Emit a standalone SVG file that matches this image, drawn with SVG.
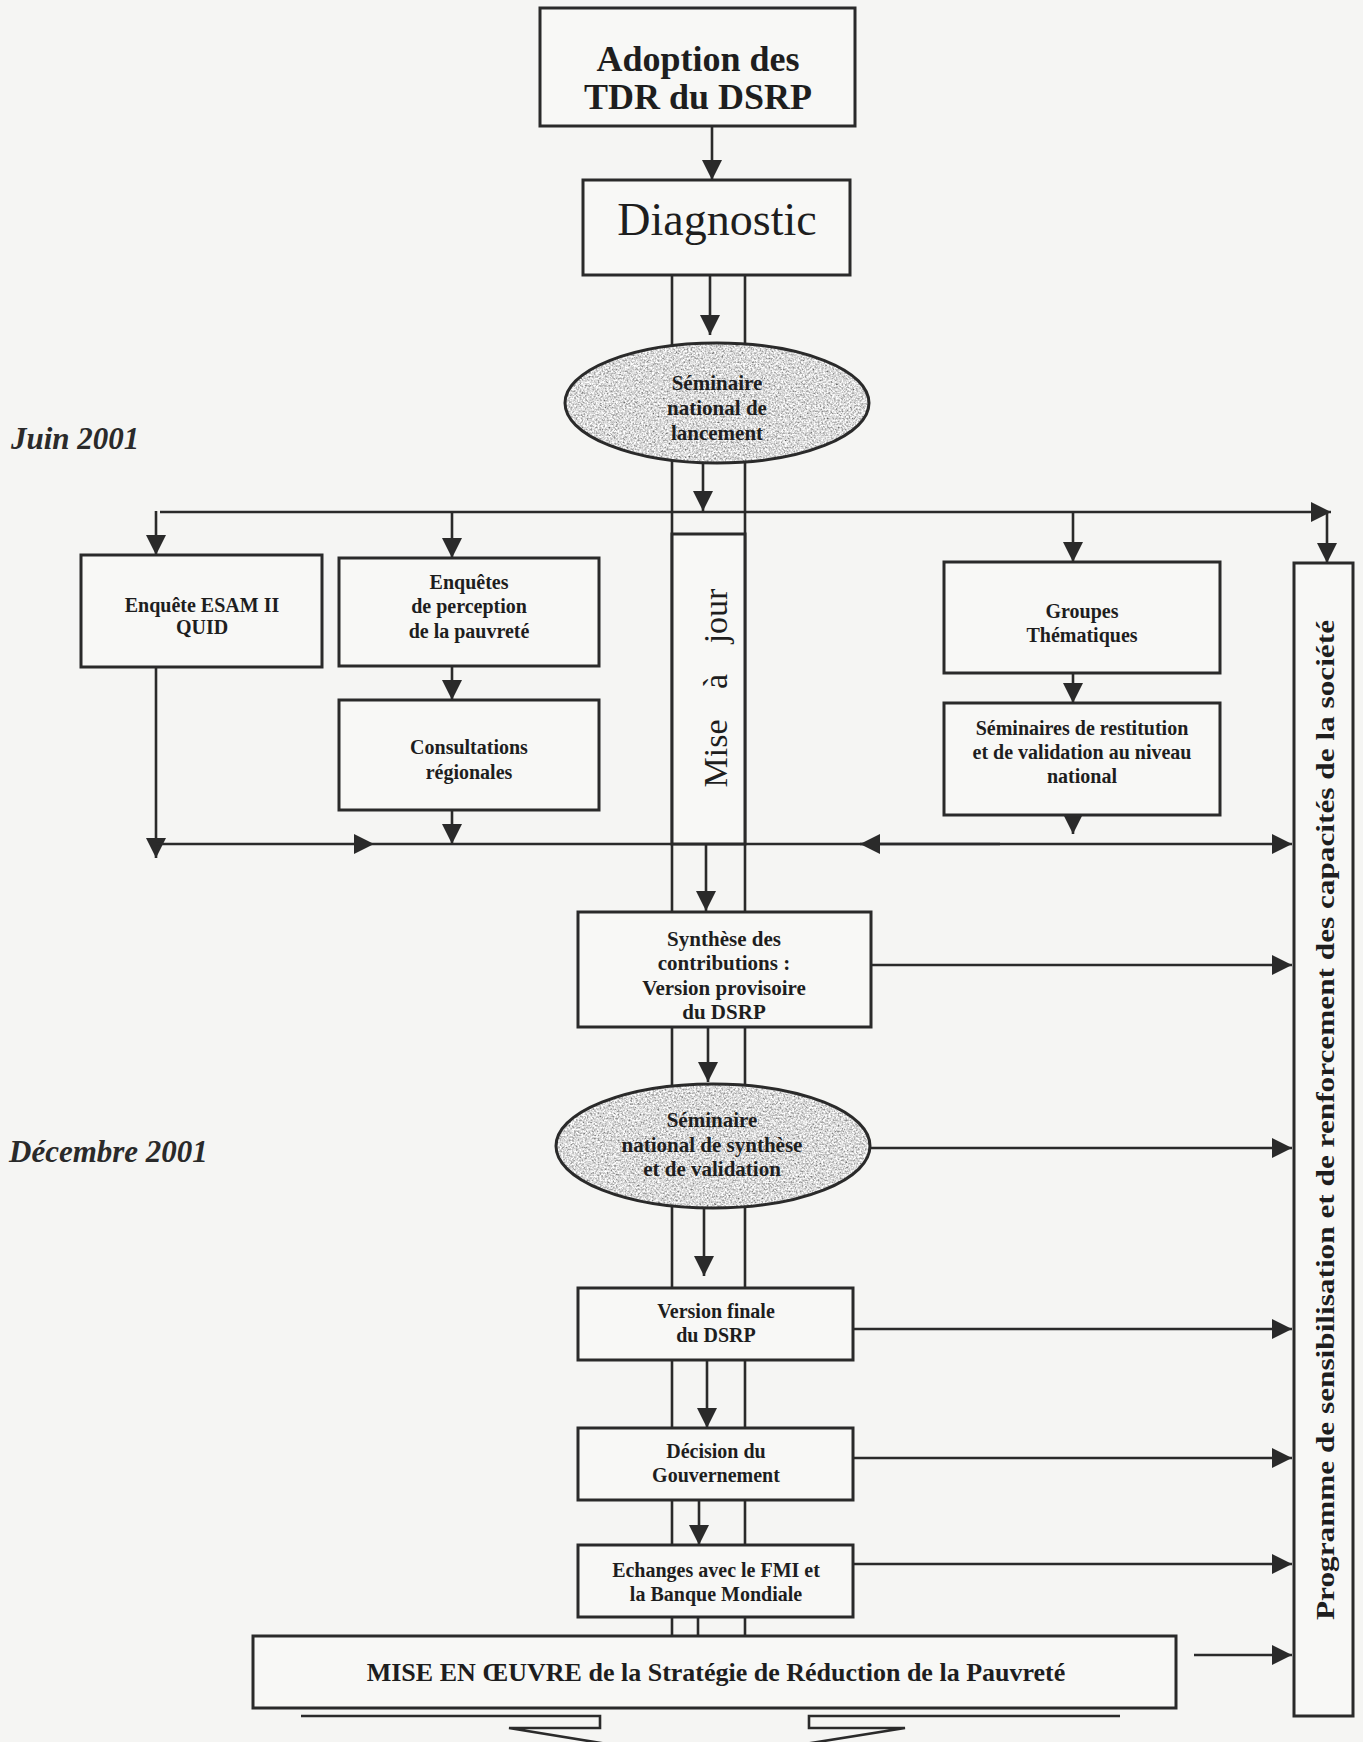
<svg xmlns="http://www.w3.org/2000/svg" width="1363" height="1742" viewBox="0 0 1363 1742">
<style>
.bg{fill:#f5f5f3}
.box{fill:#f8f8f6;stroke:#2a2a2a;stroke-width:3}
.ell{stroke:#2a2a2a;stroke-width:3}
.ln{fill:none;stroke:#2a2a2a;stroke-width:2.6}
.col{fill:none;stroke:#2a2a2a;stroke-width:2.6}
.arr{fill:none;stroke:#2a2a2a;stroke-width:2.6;marker-end:url(#ah)}
.t{font-family:"Liberation Serif","Times New Roman",serif;font-weight:bold;font-size:20px;fill:#1e1e1e;text-anchor:middle}
.big{font-size:36px}
.diag{font-weight:normal;font-size:46px}
.date{font-family:"Liberation Serif","Times New Roman",serif;font-style:italic;font-weight:bold;font-size:31px;fill:#2a2a2a}
</style>
<defs>
<marker id="ah" viewBox="0 0 20 20" refX="20" refY="10" markerWidth="20" markerHeight="20" markerUnits="userSpaceOnUse" orient="auto">
<path d="M0,0 L20,10 L0,20 z" fill="#2a2a2a"/>
</marker>
<filter id="grain" x="0" y="0" width="100%" height="100%">
<feTurbulence type="fractalNoise" baseFrequency="0.55" numOctaves="3" seed="7" result="n"/>
<feColorMatrix in="n" type="matrix" values="1.5 0 0 0 -0.05  1.5 0 0 0 -0.05  1.5 0 0 0 -0.05  0 0 0 0 1" result="g"/>
<feComposite in="g" in2="SourceGraphic" operator="in"/>
</filter>
<filter id="grainLight" x="0" y="0" width="100%" height="100%">
<feTurbulence type="fractalNoise" baseFrequency="0.9" numOctaves="2" seed="3" result="n"/>
<feColorMatrix in="n" type="matrix" values="0.6 0 0 0 0.62  0.6 0 0 0 0.62  0.6 0 0 0 0.62  0 0 0 0 1" result="g"/>
<feComposite in="g" in2="SourceGraphic" operator="in"/>
</filter>
</defs>
<rect class="bg" x="0" y="0" width="1363" height="1742"/>

<g id="connectors">
<!-- column (Mise à jour band) -->
<line class="col" x1="672" y1="275" x2="672" y2="1636"/>
<line class="col" x1="745" y1="275" x2="745" y2="1636"/>
<!-- main flow -->
<line class="arr" x1="712" y1="126" x2="712" y2="180"/>
<line class="arr" x1="710" y1="275" x2="710" y2="335"/>
<line class="arr" x1="703" y1="462" x2="703" y2="511"/>
<!-- upper distribution line -->
<line class="arr" x1="160" y1="512" x2="1331" y2="512"/>
<line class="arr" x1="156" y1="511" x2="156" y2="555"/>
<line class="arr" x1="452" y1="512" x2="452" y2="558"/>
<line class="arr" x1="1073" y1="512" x2="1073" y2="562"/>
<line class="arr" x1="1327" y1="512" x2="1327" y2="563"/>
<line class="arr" x1="452" y1="666" x2="452" y2="700"/>
<line class="arr" x1="1073" y1="673" x2="1073" y2="703"/>
<!-- lower collection line -->
<line class="arr" x1="156" y1="667" x2="156" y2="858"/>
<line class="arr" x1="156" y1="844" x2="374" y2="844"/>
<line class="arr" x1="374" y1="844" x2="1292" y2="844"/>
<line class="arr" x1="1000" y1="844" x2="860" y2="844"/>
<line class="arr" x1="452" y1="810" x2="452" y2="844"/>
<line class="arr" x1="1073" y1="800" x2="1073" y2="834"/>
<line class="arr" x1="706" y1="844" x2="706" y2="911"/>
<!-- lower flow -->
<line class="arr" x1="871" y1="965" x2="1292" y2="965"/>
<line class="arr" x1="708" y1="1027" x2="708" y2="1082"/>
<line class="arr" x1="870" y1="1148" x2="1292" y2="1148"/>
<line class="arr" x1="704" y1="1206" x2="704" y2="1276"/>
<line class="arr" x1="853" y1="1329" x2="1292" y2="1329"/>
<line class="arr" x1="707" y1="1360" x2="707" y2="1428"/>
<line class="arr" x1="853" y1="1458" x2="1292" y2="1458"/>
<line class="arr" x1="699" y1="1500" x2="699" y2="1545"/>
<line class="arr" x1="853" y1="1564" x2="1292" y2="1564"/>
<line class="arr" x1="698" y1="1617" x2="698" y2="1666"/>
<line class="arr" x1="1194" y1="1655" x2="1292" y2="1655"/>
<!-- bottom block arrow -->
<path class="ln" d="M301,1716 H600 V1728 H509 L705,1760"/>
<path class="ln" d="M1120,1716 H809 V1728 H905 L705,1760"/>
</g>

<g id="n-adoption">
<rect class="box" x="540" y="8" width="315" height="118"/>
<text class="t big" x="698" y="71">Adoption des</text>
<text class="t big" x="698" y="109">TDR du DSRP</text>
</g>
<g id="n-diagnostic">
<rect class="box" x="583" y="180" width="267" height="95"/>
<text class="t diag" x="717" y="235">Diagnostic</text>
</g>
<g id="n-seminaire-lancement">
<ellipse cx="717" cy="403" rx="152" ry="60" fill="#bdbdbd" filter="url(#grain)"/>
<ellipse class="ell" cx="717" cy="403" rx="152" ry="60" fill="none"/>
<text class="t" style="font-size:21px" x="717" y="390">Séminaire</text>
<text class="t" style="font-size:21px" x="717" y="415">national de</text>
<text class="t" style="font-size:21px" x="717" y="440">lancement</text>
</g>
<g id="n-mise-a-jour">
<rect class="box" x="672" y="534" width="73" height="310"/>
<text class="t" style="font-weight:normal;font-size:34px;word-spacing:22px" transform="translate(727,688) rotate(-90)">Mise à jour</text>
</g>
<g id="n-esam">
<rect class="box" x="81" y="555" width="241" height="112"/>
<text class="t" x="202" y="612">Enquête ESAM II</text>
<text class="t" x="202" y="634">QUID</text>
</g>
<g id="n-enquetes">
<rect class="box" x="339" y="558" width="260" height="108"/>
<text class="t" x="469" y="589">Enquêtes</text>
<text class="t" x="469" y="613">de perception</text>
<text class="t" x="469" y="638">de la pauvreté</text>
</g>
<g id="n-consultations">
<rect class="box" x="339" y="700" width="260" height="110"/>
<text class="t" x="469" y="754">Consultations</text>
<text class="t" x="469" y="779">régionales</text>
</g>
<g id="n-groupes">
<rect class="box" x="944" y="562" width="276" height="111"/>
<text class="t" x="1082" y="618">Groupes</text>
<text class="t" x="1082" y="642">Thématiques</text>
</g>
<g id="n-seminaires-restitution">
<rect class="box" x="944" y="703" width="276" height="112"/>
<text class="t" x="1082" y="735">Séminaires de restitution</text>
<text class="t" x="1082" y="759">et de validation au niveau</text>
<text class="t" x="1082" y="783">national</text>
</g>
<g id="n-synthese">
<rect class="box" x="578" y="912" width="293" height="115"/>
<text class="t" style="font-size:21px" x="724" y="946">Synthèse des</text>
<text class="t" style="font-size:21px" x="724" y="970">contributions :</text>
<text class="t" style="font-size:21px" x="724" y="995">Version provisoire</text>
<text class="t" style="font-size:21px" x="724" y="1019">du DSRP</text>
</g>
<g id="n-seminaire-synthese">
<ellipse cx="713" cy="1146" rx="157" ry="62" fill="#bdbdbd" filter="url(#grain)"/>
<ellipse class="ell" cx="713" cy="1146" rx="157" ry="62" fill="none"/>
<text class="t" style="font-size:21px" x="712" y="1127">Séminaire</text>
<text class="t" style="font-size:21px" x="712" y="1152">national de synthèse</text>
<text class="t" style="font-size:21px" x="712" y="1176">et de validation</text>
</g>
<g id="n-version-finale">
<rect class="box" x="578" y="1288" width="275" height="72"/>
<text class="t" x="716" y="1318">Version finale</text>
<text class="t" x="716" y="1342">du DSRP</text>
</g>
<g id="n-decision">
<rect class="box" x="578" y="1428" width="275" height="72"/>
<text class="t" x="716" y="1458">Décision du</text>
<text class="t" x="716" y="1482">Gouvernement</text>
</g>
<g id="n-echanges">
<rect class="box" x="578" y="1545" width="275" height="72"/>
<text class="t" x="716" y="1577">Echanges avec le FMI et</text>
<text class="t" x="716" y="1601">la Banque Mondiale</text>
</g>
<g id="n-mise-en-oeuvre">
<rect class="box" x="253" y="1636" width="923" height="72"/>
<text class="t" style="font-size:26px" x="716" y="1681">MISE EN ŒUVRE de la Stratégie de Réduction de la Pauvreté</text>
</g>
<g id="n-programme">
<rect x="1294" y="563" width="59" height="1153" fill="#eeeeec" filter="url(#grainLight)"/>
<rect class="box" x="1294" y="563" width="59" height="1153" fill="none"/>
<text class="t" style="font-size:26px" textLength="1000" lengthAdjust="spacingAndGlyphs" transform="translate(1334,1120) rotate(-90)">Programme de sensibilisation et  de renforcement des capacités de la société</text>
</g>
<g id="labels">
<text class="date" x="11" y="449">Juin 2001</text>
<text class="date" x="9" y="1162">Décembre 2001</text>
</g>
</svg>
